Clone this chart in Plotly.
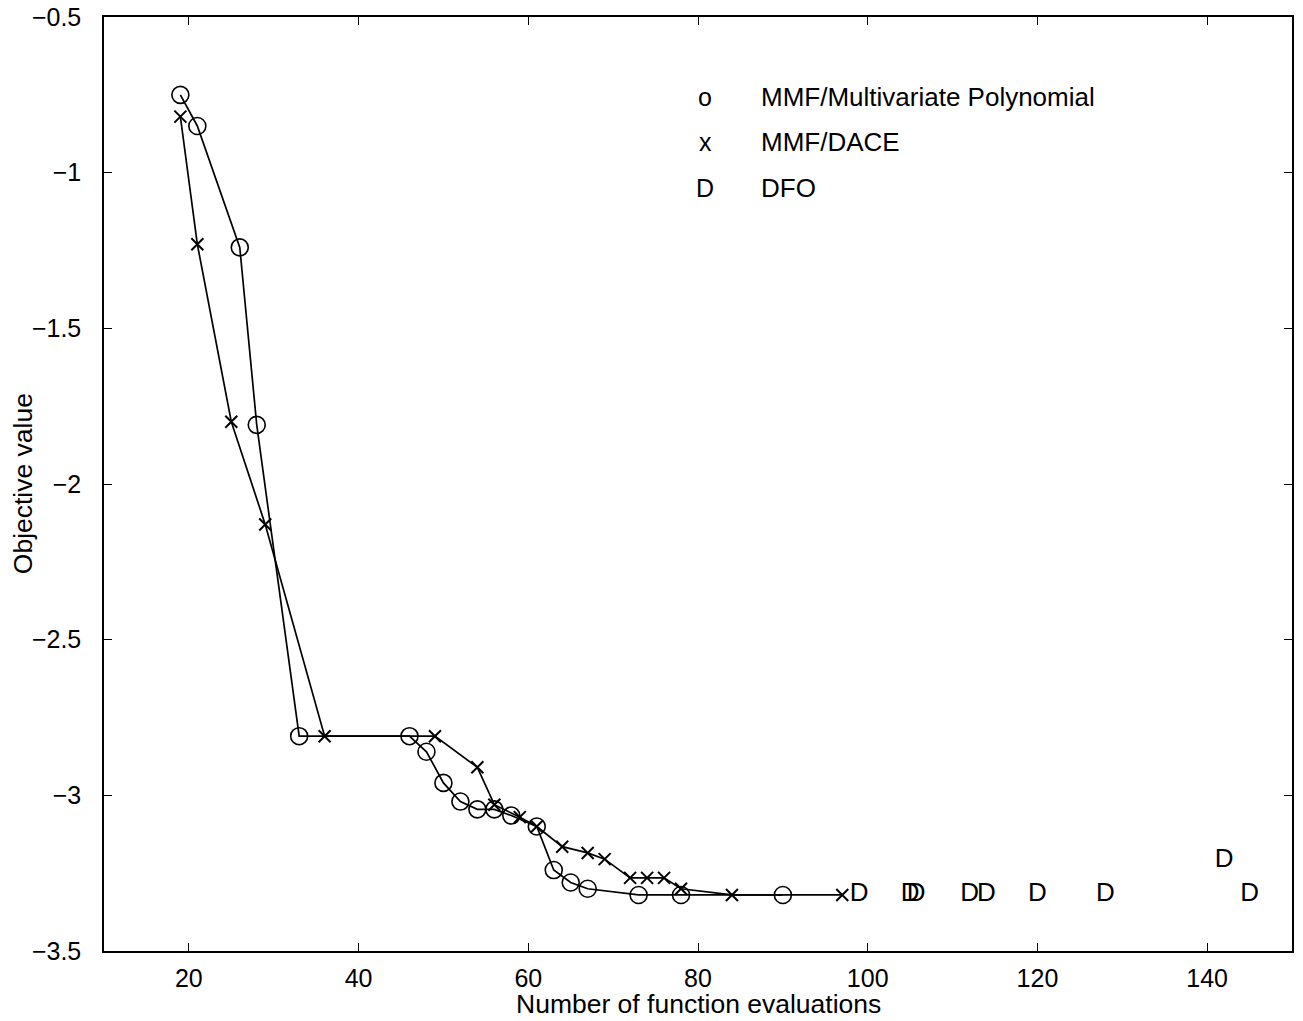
import plotly.graph_objects as go

# MMF / Multivariate Polynomial (circles)
poly_x = [19, 21, 26, 28, 33, 46, 48, 50, 52, 54, 56, 58, 61, 63, 65, 67, 73, 78, 90]
poly_y = [-0.75, -0.85, -1.24, -1.81, -2.81, -2.81, -2.86, -2.96, -3.02, -3.045,
          -3.045, -3.065, -3.10, -3.24, -3.28, -3.30, -3.32, -3.32, -3.32]

# MMF / DACE (crosses)
dace_x = [19, 21, 25, 29, 36, 49, 54, 56, 59, 61, 64, 67, 69, 72, 74, 76, 78, 84, 97]
dace_y = [-0.82, -1.23, -1.80, -2.13, -2.81, -2.81, -2.91, -3.03, -3.07, -3.10,
          -3.165, -3.185, -3.205, -3.265, -3.265, -3.265, -3.30, -3.32, -3.32]

# DFO ("D" markers)
dfo_x = [99, 105, 105.7, 112, 114, 120, 128, 142, 145]
dfo_y = [-3.32, -3.32, -3.32, -3.32, -3.32, -3.32, -3.32, -3.21, -3.32]

legend_symbols = ["o", "x", "D"]
legend_labels = ["MMF/Multivariate Polynomial", "MMF/DACE", "DFO"]

x_ticks = [20, 40, 60, 80, 100, 120, 140]
y_ticks = [-3.5, -3, -2.5, -2, -1.5, -1, -0.5]
y_ticktext = ["\u22123.5", "\u22123", "\u22122.5", "\u22122", "\u22121.5", "\u22121", "\u22120.5"]

FONT = "Liberation Sans, Arial, Helvetica, sans-serif"

fig = go.Figure()
fig.add_trace(go.Scatter(
    x=poly_x, y=poly_y, mode="lines+markers",
    line=dict(color="black", width=1.7),
    marker=dict(symbol="circle-open", size=17, color="black", line=dict(width=1.6)),
    name=legend_labels[0], showlegend=False))
fig.add_trace(go.Scatter(
    x=dace_x, y=dace_y, mode="lines+markers",
    line=dict(color="black", width=1.7),
    marker=dict(symbol="x-thin-open", size=12, color="black", line=dict(width=2, color="black")),
    name=legend_labels[1], showlegend=False))
fig.add_trace(go.Scatter(
    x=dfo_x, y=dfo_y, mode="text", text=["D"] * len(dfo_x),
    textposition="middle center",
    textfont=dict(family=FONT, size=26, color="black"),
    name=legend_labels[2], showlegend=False))

rows_y = [0.914, 0.866, 0.817]
for sym, lab, yy in zip(legend_symbols, legend_labels, rows_y):
    fig.add_annotation(x=0.506, y=yy, xref="paper", yref="paper", text=sym,
                       showarrow=False, xanchor="center", yanchor="middle",
                       font=dict(family=FONT, size=25, color="black"))
    fig.add_annotation(x=0.551, y=yy, xref="paper", yref="paper", text=lab,
                       showarrow=False, xanchor="left", yanchor="middle",
                       font=dict(family=FONT, size=26, color="black"))

# axis titles placed as annotations
fig.add_annotation(x=-0.068, y=0.5, xref="paper", yref="paper", text="Objective value",
                   textangle=-90, showarrow=False, xanchor="center", yanchor="middle",
                   font=dict(family=FONT, size=26.5, color="black"))
fig.add_annotation(x=0.5, y=-0.057, xref="paper", yref="paper",
                   text="Number of function evaluations",
                   showarrow=False, xanchor="center", yanchor="middle",
                   font=dict(family=FONT, size=26.5, color="black"))

axis_common = dict(showline=True, linecolor="black", linewidth=1.5, mirror="ticks",
                   ticks="inside", ticklen=8, tickwidth=1.2, tickcolor="black",
                   showgrid=False, zeroline=False, automargin=False,
                   ticklabeloverflow="allow",
                   tickfont=dict(family=FONT, size=25, color="black"))

fig.update_xaxes(range=[10, 150], tickvals=x_ticks, ticklabelstandoff=4, **axis_common)
fig.update_yaxes(range=[-3.5, -0.5], tickvals=y_ticks, ticktext=y_ticktext,
                 ticklabelstandoff=16, **axis_common)

# page body adds an 8px offset; size the figure so the plot box lands where the reference has it
fig.update_layout(width=1295, height=1013, plot_bgcolor="white", paper_bgcolor="white",
                  margin=dict(l=96, r=11, t=9, b=70))

fig.write_html("out.html")
